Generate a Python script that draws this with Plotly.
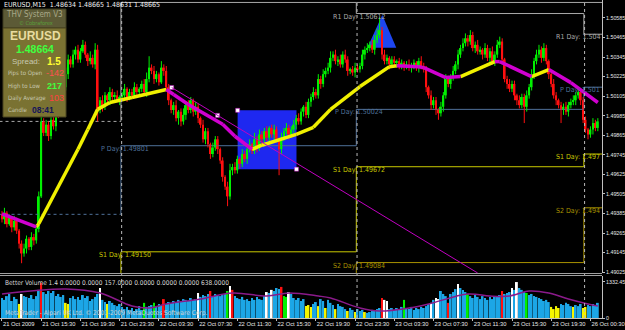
import plotly.graph_objects as go

# ---------------- data ----------------
tick_bars = [0, 16, 32, 48, 64, 80, 96, 112, 128, 144, 160, 176, 192, 208, 224, 240]
tick_text = ["21 Oct 2009", "21 Oct 15:30", "21 Oct 19:30", "21 Oct 23:30", "22 Oct 03:30",
             "22 Oct 07:30", "22 Oct 11:30", "22 Oct 15:30", "22 Oct 19:30", "22 Oct 23:30",
             "23 Oct 03:30", "23 Oct 07:30", "23 Oct 11:30", "23 Oct 15:30", "23 Oct 19:30",
             "26 Oct 00:30"]
price_ticks = [1.49025, 1.49145, 1.49265, 1.49385, 1.49505, 1.49625, 1.49745, 1.49865,
               1.49985, 1.50105, 1.50225, 1.50345, 1.50465, 1.50585]

open0 = 1.4938
closes = [
    1.4935, 1.4939, 1.4932, 1.4936, 1.4930, 1.4934, 1.4928, 1.4920, 1.4914, 1.4917,
    1.4923, 1.4918, 1.4924, 1.4922, 1.4929, 1.4949, 1.4995, 1.4988, 1.4993, 1.4986,
    1.4996, 1.4992, 1.5003, 1.4999, 1.5010, 1.5016, 1.5024, 1.5033, 1.5030, 1.5036,
    1.5039, 1.5033, 1.5038, 1.5042, 1.5036, 1.5032, 1.5034, 1.5030, 1.5039, 1.5002,
    1.5008, 1.5004, 1.5011, 1.5008, 1.5013, 1.5010, 1.5011, 1.5008, 1.5010, 1.5011,
    1.5015, 1.5010, 1.5013, 1.5011, 1.5016, 1.5013, 1.5015, 1.5018, 1.5013, 1.5021,
    1.5028, 1.5026, 1.5021, 1.5024, 1.5019, 1.5028, 1.5026, 1.5016, 1.5008, 1.5002,
    1.5005, 1.4997, 1.5001, 1.4995, 1.4999, 1.5005, 1.5002, 1.5008, 1.5001, 1.5004,
    1.4997, 1.4993, 1.4984, 1.4989, 1.4981, 1.4975, 1.4979, 1.4984, 1.4978, 1.4971,
    1.4961, 1.4955, 1.4949, 1.4965, 1.4967, 1.4965, 1.4972, 1.4969, 1.4975, 1.4972,
    1.4978, 1.4981, 1.4977, 1.4984, 1.4979, 1.4987, 1.4984, 1.4989, 1.4985, 1.4991,
    1.4987, 1.4990, 1.4984, 1.4978, 1.4985, 1.4989, 1.4991, 1.4987, 1.4990, 1.4993,
    1.4997, 1.4995, 1.5001, 1.5004, 1.4999, 1.5007, 1.5010, 1.5013, 1.5011, 1.5021,
    1.5018, 1.5024, 1.5026, 1.5028, 1.5034, 1.5036, 1.5032, 1.5033, 1.5030, 1.5036,
    1.5033, 1.5026, 1.5027, 1.5025, 1.5028, 1.5027, 1.5029, 1.5036, 1.5039, 1.5040,
    1.5042, 1.5039, 1.5045, 1.5048, 1.5051, 1.5036, 1.5032, 1.5034, 1.5030, 1.5033,
    1.5031, 1.5032, 1.5029, 1.5031, 1.5029, 1.5030, 1.5028, 1.5029, 1.5031, 1.5028,
    1.5032, 1.5029, 1.5027, 1.5016, 1.5011, 1.5005, 1.5008, 1.5002, 1.5000, 1.5004,
    1.5011, 1.5021, 1.5018, 1.5022, 1.5026, 1.5030, 1.5036, 1.5040, 1.5043, 1.5046,
    1.5044, 1.5048, 1.5040, 1.5042, 1.5038, 1.5039, 1.5036, 1.5040, 1.5034, 1.5038,
    1.5032, 1.5036, 1.5042, 1.5044, 1.5033, 1.5021, 1.5018, 1.5015, 1.5018, 1.5011,
    1.5008, 1.5005, 1.5010, 1.5004, 1.5011, 1.5016, 1.5024, 1.5032, 1.5036, 1.5039,
    1.5034, 1.5040, 1.5032, 1.5024, 1.5018, 1.5011, 1.5008, 1.5005, 1.5002, 1.5004,
    1.5001, 1.5005, 1.5007, 1.5008, 1.5011, 1.5013, 1.5008, 1.4996, 1.4990, 1.4987,
    1.4990, 1.4994, 1.4991, 1.4995]
up_wick_pips = [
    2, 3, 1, 2, 1, 3, 2, 1, 2, 3,   2, 1, 3, 2, 2, 3, 3, 2, 3, 2,
    3, 2, 1, 3, 2, 2, 4, 3, 2, 3,   2, 3, 2, 3, 2, 1, 4, 2, 4, 3,
    2, 3, 2, 1, 3, 2, 2, 3, 1, 2,   3, 1, 2, 2, 3, 2, 1, 2, 3, 4,
    7, 2, 3, 2, 1, 4, 2, 3, 2, 1,   2, 3, 1, 2, 4, 2, 3, 2, 1, 3,
    2, 1, 3, 2, 2, 1, 3, 2, 2, 1,   2, 1, 3, 4, 2, 3, 2, 1, 3, 2,
    2, 3, 1, 4, 2, 3, 2, 2, 3, 1,   2, 3, 2, 1, 3, 2, 3, 2, 2, 3,
    2, 3, 2, 1, 3, 2, 2, 3, 2, 3,   2, 3, 2, 3, 4, 2, 3, 2, 3, 2,
    3, 2, 1, 2, 3, 2, 2, 3, 2, 3,   2, 3, 3, 4, 8, 2, 3, 2, 1, 2,
    2, 1, 2, 2, 1, 2, 3, 2, 2, 1,   2, 3, 2, 2, 1, 3, 2, 2, 1, 3,
    2, 3, 2, 2, 3, 2, 3, 2, 3, 3,   2, 3, 2, 2, 3, 2, 1, 3, 2, 2,
    3, 2, 3, 3, 2, 1, 2, 3, 2, 2,   1, 3, 2, 2, 3, 2, 3, 2, 3, 3,
    2, 3, 2, 1, 2, 3, 2, 1, 2, 2,   3, 2, 2, 3, 2, 2, 1, 2, 2, 1,
    2, 3, 2, 2]
dn_wick_pips = [
    2, 3, 2, 1, 3, 2, 2, 3, 6, 2,   3, 2, 2, 3, 2, 2, 1, 2, 2, 3,
    2, 2, 3, 2, 1, 2, 2, 3, 2, 2,   3, 2, 2, 1, 2, 3, 2, 2, 3, 7,
    2, 3, 2, 2, 3, 2, 2, 1, 3, 2,   2, 3, 2, 2, 1, 3, 2, 2, 2, 3,
    2, 2, 3, 2, 2, 1, 3, 2, 3, 2,   3, 2, 4, 3, 2, 3, 2, 2, 3, 2,
    3, 2, 2, 3, 2, 3, 2, 2, 3, 2,   3, 2, 6, 2, 3, 2, 2, 3, 2, 2,
    3, 2, 2, 2, 3, 2, 3, 2, 2, 3,   2, 3, 2, 16, 3, 2, 2, 3, 2, 2,
    3, 2, 2, 3, 2, 2, 3, 2, 2, 2,   3, 2, 2, 2, 3, 2, 2, 3, 2, 2,
    2, 3, 2, 2, 3, 2, 2, 2, 3, 2,   2, 2, 3, 2, 2, 3, 2, 2, 3, 2,
    2, 3, 2, 2, 3, 2, 2, 3, 2, 2,   3, 2, 2, 3, 2, 3, 2, 3, 4, 2,
    3, 2, 2, 3, 2, 2, 3, 2, 2, 2,   3, 2, 2, 3, 2, 2, 3, 2, 2, 3,
    2, 3, 2, 2, 3, 2, 3, 2, 2, 3,   3, 2, 2, 10, 3, 2, 2, 3, 2, 2,
    3, 2, 2, 3, 2, 2, 3, 2, 8, 3,   2, 3, 2, 2, 3, 2, 3, 2, 2, 3,
    2, 3, 2, 2]

# trend moving average (vertices) and its slope colour per segment
ma_bars = [0, 14, 15, 31, 35, 39, 44, 53, 67, 70, 76, 90, 95, 102, 106, 120, 127, 134,
           146, 158, 161, 170, 172, 181, 187, 201, 203, 216, 223, 232, 243]
ma_vals = [1.49383, 1.49303, 1.49322, 1.49779, 1.49901, 1.50024, 1.50066, 1.50097,
           1.50146, 1.50115, 1.50054, 1.49932, 1.49859, 1.49779, 1.49804, 1.49871,
           1.49914, 1.50024, 1.50164, 1.50286, 1.50292, 1.50286, 1.50280, 1.50219,
           1.50225, 1.50317, 1.50317, 1.50225, 1.50268, 1.50188, 1.50066]
ma_trend = ["dn", "up", "up", "up", "up", "up", "up", "up", "dn", "dn", "dn", "dn", "dn",
            "up", "up", "up", "up", "up", "up", "up", "dn", "dn", "dn", "dn", "up", "dn",
            "dn", "up", "dn", "dn"]

# daily pivot levels (None = off chart)
day_starts = [-1.0, 48.5, 144.5, 237.3]
day_end = 245.0
r1_levels = [1.49950, 1.50680, 1.50612, 1.50485]
p_levels = [1.49380, 1.49801, 1.50024, 1.50160]
s1_levels = [None, 1.49150, 1.49672, 1.49750]
s2_levels = [None, None, 1.49084, 1.49420]

# Better Volume
volumes = [
    740, 670, 810, 890, 630, 780, 700, 520, 890, 810,
    780, 740, 850, 700, 810, 1040, 1300, 960, 890, 1000,
    925, 1000, 810, 890, 780, 850, 560, 520, 740, 810,
    700, 780, 670, 850, 740, 810, 630, 700, 780, 890,
    1110, 670, 590, 520, 630, 560, 480, 440, 520, 410,
    330, 410, 300, 370, 260, 330, 440, 300, 560, 410,
    440, 480, 560, 410, 520, 480, 700, 520, 590, 560,
    630, 590, 670, 630, 700, 670, 630, 740, 670, 700,
    925, 780, 850, 810, 890, 1000, 810, 890, 850, 810,
    850, 890, 1000, 1180, 1040, 810, 740, 700, 780, 670,
    700, 630, 740, 670, 780, 700, 670, 810, 960, 925,
    1040, 1000, 1110, 1070, 1150, 810, 780, 960, 890, 740,
    670, 740, 630, 700, 440, 480, 410, 520, 590, 440,
    700, 630, 370, 670, 560, 480, 330, 520, 440, 410,
    330, 260, 370, 300, 220, 330, 260, 300, 220, 190,
    220, 300, 260, 330, 370, 740, 670, 630, 330, 370,
    300, 370, 330, 410, 670, 370, 330, 410, 300, 370,
    330, 410, 370, 440, 520, 560, 670, 740, 700, 1000,
    890, 810, 560, 890, 960, 1070, 1260, 1110, 1040, 960,
    890, 810, 740, 850, 780, 700, 810, 740, 670, 780,
    700, 810, 780, 850, 1000, 890, 925, 960, 1110, 1040,
    1330, 1110, 1040, 960, 925, 850, 890, 810, 780, 740,
    700, 630, 670, 590, 410, 330, 440, 370, 520, 480,
    560, 520, 440, 410, 480, 440, 520, 370, 410, 480,
    440, 520, 480, 560]
volume_class = list(
    "bbbbbbbywb" "bbbbbbrbbb" "bbbbbbyybb" "bbbbbbbbbb" "wbbybbbbbb"
    "bbbbbbbbgb" "bbgbbbrbbb" "bbbbbbbbbb" "wbbbbrbbbb" "bbgwrbbbbb"
    "bbbbbbbbwb" "wbbbrggwbb" "bbbbyyybby" "bbybbbybbb" "bybbybbbyb"
    "bbbbbrwwbb" "bbbbgbbbbb" "bbbbbwbwwb" "bbrbbbwbbb" "gbbbbbbbbb"
    "bbbbrbbbwb" "wbbbgbbbbb" "bbbbyyyybb" "bbbybbbyyb" "bbbb")
vol_ma_bars = [0, 26, 40, 53, 60, 67, 81, 94, 108, 117, 129, 134, 146, 154, 166, 174,
               190, 199, 207, 215, 223, 231, 239, 243]
vol_ma_vals = [888, 1073, 925, 444, 370, 518, 703, 925, 814, 925, 814, 740, 370, 259,
               370, 518, 888, 814, 814, 999, 925, 703, 518, 444]

# drawn objects (bar index, price)
box_obj = dict(x0=96.1, x1=120.1, y0=1.49657, y1=1.50018)
tri_obj = [(149.0, 1.50402), (160.8, 1.50402), (155.1, 1.50603)]
trend_obj = dict(x0=69.2, y0=1.50158, x1=194.0, y1=1.49020)
trend_handle2 = (87.9, 1.49987)

# ---------------- layout helpers ----------------
W, H = 625, 330
ML, MR, MT, MB = 0, 23, 0, 12
PW, PH = W - ML - MR, H - MT - MB
FONT = "Liberation Sans Narrow, Arial Narrow, DejaVu Sans Condensed, Liberation Sans, sans-serif"
FONTB = "Liberation Sans, Arial, sans-serif"
Y_MIN, Y_MAX = 1.49020, 1.50695
V_MAX = 1554


def pxx(x):
    return x / PW


def pyy(y):
    return 1 - y / PH


GREEN, RED = "#00F000", "#FF1010"
n = len(closes)
idx = list(range(n))
opens = [open0] + closes[:-1]
highs = [max(o, c) + u * 1e-4 for o, c, u in zip(opens, closes, up_wick_pips)]
lows = [min(o, c) - d * 1e-4 for o, c, d in zip(opens, closes, dn_wick_pips)]
bull = [c >= o for o, c in zip(opens, closes)]

fig = go.Figure()

# pivot lines ---------------------------------------------------------
BELOW = 1.4880


def pivot_trace(levels, color):
    xs = [day_starts[1]]
    ys = [levels[0] if levels[0] is not None else BELOW]
    for k in range(1, len(levels)):
        xs.append(day_starts[k])
        ys.append(levels[k] if levels[k] is not None else BELOW)
    xs.append(day_end)
    ys.append(ys[-1])
    fig.add_trace(go.Scatter(x=xs, y=ys, mode="lines", line=dict(color=color, width=1, shape="hv"),
                             hoverinfo="skip"))
    if levels[0] is not None:
        fig.add_trace(go.Scatter(x=[day_starts[0], day_starts[1]], y=[levels[0], levels[0]],
                                 mode="lines", line=dict(color=color, width=1, dash="dot"),
                                 hoverinfo="skip"))


R1C, PC, S1C, S2C = "#A8A8A8", "#4F7099", "#C8C800", "#A89200"
pivot_trace(r1_levels, R1C)
pivot_trace(p_levels, PC)
pivot_trace(s1_levels, S1C)
pivot_trace(s2_levels, S2C)

# candle wicks ----------------------------------------------------------
for want, col in ((True, GREEN), (False, RED)):
    wx, wy = [], []
    for i in idx:
        if bull[i] == want:
            wx += [i, i, None]
            wy += [lows[i], highs[i], None]
    fig.add_trace(go.Scatter(x=wx, y=wy, mode="lines", line=dict(color=col, width=1),
                             hoverinfo="skip"))

# candle bodies
fig.add_trace(go.Bar(
    x=idx, base=[min(o, c) for o, c in zip(opens, closes)],
    y=[max(abs(c - o), 0.00004) for o, c in zip(opens, closes)],
    marker=dict(color=[GREEN if b else RED for b in bull], line=dict(width=0)),
    width=0.75, hoverinfo="skip"))

# moving average (colour by slope)
for tr, col in (("up", "#F0F000"), ("dn", "#D000D0")):
    mx, my = [], []
    for k, t in enumerate(ma_trend):
        if t == tr:
            mx += [ma_bars[k], ma_bars[k + 1], None]
            my += [ma_vals[k], ma_vals[k + 1], None]
    fig.add_trace(go.Scatter(x=mx, y=my, mode="lines", line=dict(color=col, width=3.5),
                             hoverinfo="skip"))

# drawing handles
fig.add_trace(go.Scatter(
    x=[trend_obj["x0"], trend_handle2[0], box_obj["x0"], box_obj["x1"]],
    y=[trend_obj["y0"], trend_handle2[1], box_obj["y1"], box_obj["y0"]],
    mode="markers", marker=dict(symbol="square", size=4, color="white",
                                line=dict(color="#C000C0", width=0.5)),
    hoverinfo="skip"))

# volume ---------------------------------------------------------------
VCOL = {"b": "#1CA6E6", "y": "#F5F500", "w": "#FFFFFF", "r": "#FF1010", "g": "#00F000"}
fig.add_trace(go.Bar(x=idx, y=volumes, yaxis="y2",
                     marker=dict(color=[VCOL[c] for c in volume_class], line=dict(width=0)),
                     width=0.75, hoverinfo="skip"))
fig.add_trace(go.Scatter(x=vol_ma_bars, y=vol_ma_vals, yaxis="y2", mode="lines",
                         line=dict(color="#8A1A8A", width=1.5, shape="spline"), hoverinfo="skip"))

# ---------------- shapes ----------------
shapes = []
shapes.append(dict(type="rect", xref="x", yref="y", layer="below", line=dict(width=0),
                   fillcolor="#1E28F0", **box_obj))
tri_path = "M {} {} L {} {} L {} {} Z".format(*[v for p in tri_obj for v in p])
shapes.append(dict(type="path", xref="x", yref="y", path=tri_path, layer="below",
                   fillcolor="#1E46F0", line=dict(width=0)))
shapes.append(dict(type="line", xref="x", yref="y", line=dict(color="#C000C0", width=1),
                   **trend_obj))
shapes.append(dict(type="line", xref="x", yref="y", x0=day_starts[2], x1=day_end,
                   y0=r1_levels[1], y1=r1_levels[1], line=dict(color=R1C, width=1)))
for ds in day_starts[1:]:
    shapes.append(dict(type="line", xref="x", yref="paper", x0=ds + 0.3, x1=ds + 0.3, y0=0, y1=1,
                       line=dict(color="#B8B8B8", width=1, dash="dot")))
for yy in (273.5, 275.5):
    shapes.append(dict(type="line", xref="paper", yref="paper", x0=0, x1=1,
                       y0=pyy(yy), y1=pyy(yy), line=dict(color="#A0A0A0", width=1)))
# info panel
shapes.append(dict(type="rect", xref="paper", yref="paper", x0=pxx(3), x1=pxx(66),
                   y0=pyy(28), y1=pyy(9), fillcolor="#5C5A36", line=dict(color="#3E3C20", width=1),
                   layer="above"))
shapes.append(dict(type="rect", xref="paper", yref="paper", x0=pxx(3), x1=pxx(66),
                   y0=pyy(117), y1=pyy(28), fillcolor="#7A7232", line=dict(color="#4A4420", width=1),
                   layer="above"))

# ---------------- annotations ----------------
ann = []


def text(x, y, s, size=7, color="#E0E0E0", anchor="left", family=FONT):
    ann.append(dict(x=pxx(x), y=pyy(y), xref="paper", yref="paper", text=s, showarrow=False,
                    xanchor=anchor, yanchor="middle", font=dict(size=size, color=color, family=family)))


text(2, 5, "EURUSD,M15  1.48634 1.48665 1.48631 1.48665", 7, "#F0F0F0")
text(34, 15, "THV System V3", 8, "#A8A888", "center", FONT)
text(36, 23, "© Cobraforex", 5.5, "#5AA03A", "center", FONT)
text(35, 36, "<b>EURUSD</b>", 12, "#E8DCA0", "center", FONTB)
text(35, 49, "<b>1.48664</b>", 10.5, "#40FF40", "center", FONTB)
text(42, 62, "Spread:", 8, "#C8C8B0", "right", FONTB)
text(45, 62, "<b>1.5</b>", 10, "#FFFF30", "left", FONTB)
text(6, 73, "Pips to Open", 6, "#C8C8B0")
text(66, 73, "-142", 9, "#FF5050", "right", FONTB)
text(6, 86, "High to Low", 6, "#C8C8B0")
text(64, 86, "<b>217</b>", 9, "#40FF40", "right", FONTB)
text(6, 98, "Daily Average", 6, "#C8C8B0")
text(66, 98, "103", 9, "#FF4040", "right", FONTB)
text(6, 110, "Candle", 6, "#C8C8B0")
text(30, 110, "<b>08:41</b>", 8.5, "#14145A", "left", FONTB)
text(3, 283, "Better Volume 1.4 0.0000 0.0000 157.0000 0.0000 0.0000 0.0000 638.0000", 6.5, "#D8D8D8")
text(3, 313, "MetaTrader - Alpari UK Ltd. © 2001-2009 MetaQuotes Software Corp.", 6.5, "#D0D0D0")


def pivot_label(xb, level, name, color, anchor="center", digits=5, shift=-3):
    if level is None:
        return
    s = f"{level:.5f}"[: 2 + digits]
    ann.append(dict(x=xb, y=level, xref="x", yref="y", text=f"{name} Day: {s}", showarrow=False,
                    xanchor=anchor, yanchor="middle", yshift=shift,
                    font=dict(size=7, color=color, family=FONT)))


pivot_label(day_starts[1] + 1.5, p_levels[1], "P", PC)
pivot_label(day_starts[1] + 1.5, s1_levels[1], "S1", S1C)
for lv, nm, cl in ((r1_levels[2], "R1", R1C), (p_levels[2], "P", PC),
                   (s1_levels[2], "S1", S1C), (s2_levels[2], "S2", S2C)):
    pivot_label(day_starts[2] + 1.0, lv, nm, cl)
for lv, nm, cl in ((r1_levels[3], "R1", R1C), (p_levels[3], "P", PC),
                   (s1_levels[3], "S1", S1C), (s2_levels[3], "S2", S2C)):
    pivot_label(244.6, lv, nm, cl, anchor="right", digits=3)

AX = dict(showgrid=False, zeroline=False, showline=True, linecolor="#C0C0C0", linewidth=1,
          ticks="outside", ticklen=2, tickcolor="#C0C0C0", automargin=False,
          ticklabelstandoff=0)
YFONT = dict(size=5.3, color="#E8E8E8", family=FONTB)
XFONT = dict(size=5.8, color="#E8E8E8", family=FONTB)

fig.update_layout(
    width=W, height=H, margin=dict(l=ML, r=MR, t=MT, b=MB, autoexpand=False),
    paper_bgcolor="black", plot_bgcolor="black", showlegend=False, barmode="overlay",
    xaxis=dict(domain=[0, 1], anchor="y2", range=[-0.81, 244.7], tickvals=tick_bars,
               ticktext=tick_text, ticklabelposition="outside right", tickangle=0,
               tickfont=XFONT, **AX),
    yaxis=dict(domain=[pyy(273), 1], anchor="x", side="right", range=[Y_MIN, Y_MAX],
               tickvals=price_ticks, ticktext=[f"{v:.5f}" for v in price_ticks],
               tickfont=YFONT, **AX),
    yaxis2=dict(domain=[0, pyy(276)], anchor="x", side="right", range=[0, V_MAX],
                tickvals=[0, 1332.45], ticktext=["0", "1332.45"], tickfont=YFONT, **AX),
    shapes=shapes, annotations=ann,
)

fig.write_html("out.html")
